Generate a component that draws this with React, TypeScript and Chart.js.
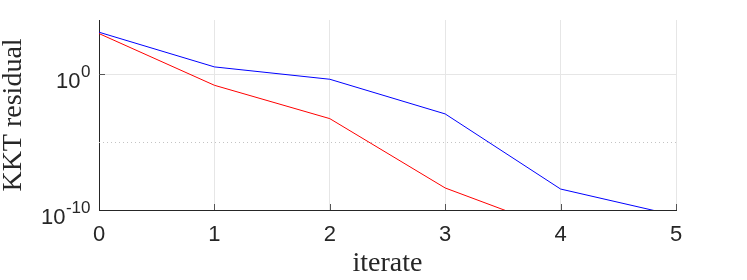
import React, { useEffect, useRef } from 'react';
import { Chart, registerables } from 'chart.js';

Chart.register(...registerables);

const iterations = [0, 1, 2, 3, 4, 5];
const blueResidual = [1260, 3.5, 0.43, 1.2e-3, 3.5e-9, 3.9e-11];
const redResidual = [1000, 0.155, 5.4e-4, 4.2e-9, 2.8e-12];
const yTickValues = [1e-10, 1e-5, 1e0];
const yTickBase = ['10', '', '10'];
const yTickExponent = ['-10', '', '0'];
const xTickLabels = ['0', '1', '2', '3', '4', '5'];
const minorGridValues = [1e-5];

const axisDecor = {
  id: 'axisDecor',
  beforeDatasetsDraw(chart: any) {
    const { ctx, chartArea, scales } = chart;
    ctx.save();
    ctx.strokeStyle = '#c4c4c4';
    ctx.lineWidth = 1;
    ctx.setLineDash([1, 3]);
    ctx.beginPath();
    for (const v of minorGridValues) {
      const py = Math.round(scales.y.getPixelForValue(v)) + 0.5;
      ctx.moveTo(chartArea.left, py);
      ctx.lineTo(chartArea.right, py);
    }
    ctx.stroke();
    ctx.restore();
  },
  afterDraw(chart: any) {
    const { ctx, chartArea, scales } = chart;
    ctx.save();
    ctx.strokeStyle = '#555555';
    ctx.lineWidth = 1;
    ctx.beginPath();
    for (const v of iterations) {
      if (v === 0) continue;
      const px = Math.round(scales.x.getPixelForValue(v)) + 0.5;
      ctx.moveTo(px, chartArea.bottom);
      ctx.lineTo(px, chartArea.bottom - 6);
    }
    const py = Math.round(scales.y.getPixelForValue(1e0)) + 0.5;
    ctx.moveTo(chartArea.left, py);
    ctx.lineTo(chartArea.left + 6, py);
    ctx.stroke();

    // y tick labels with superscript exponents
    ctx.fillStyle = '#262626';
    ctx.textBaseline = 'alphabetic';
    ctx.textAlign = 'left';
    const baseFont = '22px "Liberation Sans", Arial, sans-serif';
    const expFont = '17px "Liberation Sans", Arial, sans-serif';
    yTickValues.forEach((v, i) => {
      const base = yTickBase[i];
      const exp = yTickExponent[i];
      if (!base) return;
      const ty = scales.y.getPixelForValue(v);
      ctx.font = baseFont;
      const wb = ctx.measureText(base).width;
      ctx.font = expFont;
      const we = ctx.measureText(exp).width;
      const right = chartArea.left - 9;
      const x0 = right - wb - we;
      ctx.font = baseFont;
      ctx.fillText(base, x0, ty + 13.5);
      ctx.font = expFont;
      ctx.fillText(exp, x0 + wb + 0.5, ty + 3);
    });
    ctx.restore();
  },
};

export default function App() {
  const canvasRef = useRef<HTMLCanvasElement | null>(null);

  useEffect(() => {
    const canvas = canvasRef.current;
    if (!canvas) return;
    const chart = new Chart(canvas, {
      type: 'line',
      data: {
        datasets: [
          {
            label: 'blue',
            data: iterations.map((x, i) => ({ x, y: blueResidual[i] })),
            borderColor: '#0000ff',
            backgroundColor: '#0000ff',
            borderWidth: 1,
            pointRadius: 0,
            tension: 0,
          },
          {
            label: 'red',
            data: redResidual.map((y, i) => ({ x: iterations[i], y })),
            borderColor: '#ff0000',
            backgroundColor: '#ff0000',
            borderWidth: 1,
            pointRadius: 0,
            tension: 0,
          },
        ],
      },
      options: {
        responsive: false,
        animation: false,
        layout: { padding: { top: 20, right: 71, left: 0, bottom: 0 } },
        plugins: { legend: { display: false }, tooltip: { enabled: false } },
        scales: {
          x: {
            type: 'linear',
            min: 0,
            max: 5,
            afterBuildTicks: (s: any) => {
              s.ticks = iterations.map((v) => ({ value: v }));
            },
            afterFit: (s: any) => {
              s.height = 70;
            },
            ticks: {
              callback: (_v: any, i: number) => xTickLabels[i],
              font: { family: 'Liberation Sans', size: 22 },
              color: '#262626',
              padding: 12,
              maxRotation: 0,
            },
            grid: {
              color: (c: any) => (c.tick && c.tick.value === 0 ? 'rgba(0,0,0,0)' : '#e6e6e6'),
              drawTicks: false,
              lineWidth: 1,
            },
            border: { color: '#262626', width: 1 },
            title: {
              display: true,
              text: 'iterate',
              font: { family: 'Liberation Serif', size: 28 },
              color: '#262626',
              padding: { top: 0, bottom: 0 },
            },
          },
          y: {
            type: 'logarithmic',
            min: 1e-10,
            max: 1e4,
            afterBuildTicks: (s: any) => {
              s.ticks = yTickValues.map((v) => ({ value: v }));
            },
            afterFit: (s: any) => {
              s.width = 99;
            },
            ticks: { display: false },
            grid: {
              color: (c: any) =>
                c.tick && (c.tick.value === 1e0) ? '#e6e6e6' : 'rgba(0,0,0,0)',
              drawTicks: false,
              lineWidth: 1,
            },
            border: { color: '#262626', width: 1 },
            title: {
              display: true,
              text: 'KKT residual',
              font: { family: 'Liberation Serif', size: 28, lineHeight: 1 },
              color: '#262626',
              padding: { top: 0, bottom: 0 },
            },
          },
        },
      } as any,
      plugins: [axisDecor],
    });
    return () => chart.destroy();
  }, []);

  return (
    <div style={{ position: 'fixed', left: 0, top: 0, width: 747, height: 280, background: '#fff' }}>
      <canvas ref={canvasRef} width={747} height={280} />
    </div>
  );
}
